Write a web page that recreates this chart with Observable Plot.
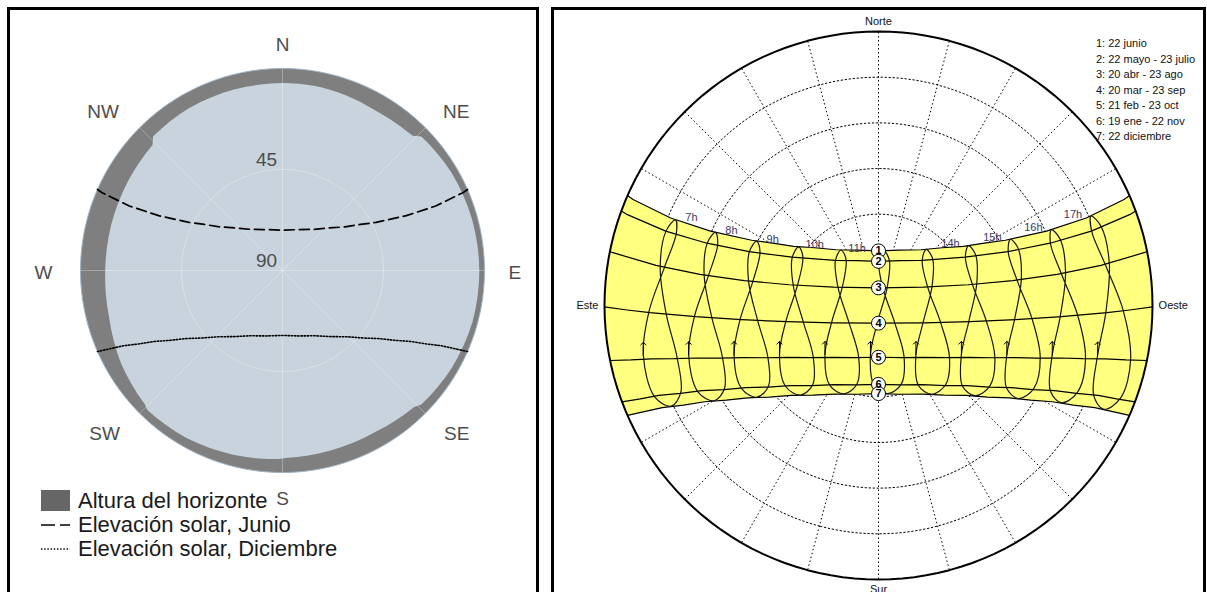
<!DOCTYPE html>
<html><head><meta charset="utf-8">
<script src="https://cdn.jsdelivr.net/npm/d3@7"></script>
<script src="https://cdn.jsdelivr.net/npm/@observablehq/plot@0.6"></script>
<style>
  html, body { margin:0; padding:0; background:#fff; }
  body { position:relative; width:1207px; height:592px; overflow:hidden; font-family:"Liberation Sans", Arial, sans-serif; }
  .box { position:absolute; border:3px solid #000; box-sizing:border-box; }
  .layer { position:absolute; top:0; }
  .layer svg { display:block; }
  #legL { position:absolute; left:40px; top:489px; font-size:22px; color:#1a1a1a; }
  #legL .row { position:relative; height:24px; line-height:24px; white-space:nowrap; }
  #legL .row svg { position:absolute; left:0; top:0; }
  #legL .row span { position:absolute; left:38px; top:0; }
  #legR { position:absolute; left:1096px; top:36px; font-size:11px; line-height:15.55px; color:#111; white-space:nowrap; }
</style></head>
<body>
<div class="box" style="left:7px;top:7px;width:532px;height:640px"></div>
<div class="box" style="left:551px;top:7px;width:655px;height:640px"></div>
<div class="layer" id="L1" style="left:0;width:540px"></div>
<div class="layer" id="L2" style="left:0;width:540px"></div>
<div id="legL"></div>
<div class="layer" id="R1" style="left:550px;width:657px"></div>
<div class="layer" id="R2" style="left:550px;width:657px"></div>
<div id="legR"></div>
<div class="layer" id="R3" style="left:550px;width:657px"></div>
<script>
// ---------------- DATA ----------------
const LAT = 5.5; // latitud aproximada leída del diagrama (°N)

// Perfil del horizonte (azimut °, altura °)
const horizonAz   = [0, 10, 20, 30, 40, 44, 46, 60, 75, 90, 105, 120, 134, 136, 150, 165, 179, 181, 195, 210, 224, 226, 240, 255, 270, 285, 300, 314, 316, 330, 345];
const horizonElev = [6.5, 6.5, 7, 7.5, 7, 6.5, 4, 3, 2.5, 2.3, 2.3, 3, 4, 5.5, 7, 7, 6.5, 6, 5, 4, 3.5, 4.5, 7, 10, 11, 11, 10.5, 9.5, 7, 6.5, 6.5];

const compassNames = ["N", "NE", "E", "SE", "S", "SW", "W", "NW"];
const compassAz = [0, 45, 90, 135, 180, 225, 270, 315];
const elevTicks = [45, 90];

const legendLeft = ["Altura del horizonte", "Elevación solar, Junio", "Elevación solar, Diciembre"];

// Diagrama solar (derecha)
const lineIds = ["1", "2", "3", "4", "5", "6", "7"];
const lineDecl = [23.44, 20.0, 11.3, -0.3, -11.5, -20.4, -23.44];
const legendRight = ["1: 22 junio", "2: 22 mayo - 23 julio", "3: 20 abr - 23 ago", "4: 20 mar - 23 sep", "5: 21 feb - 23 oct", "6: 19 ene - 22 nov", "7: 22 diciembre"];

// fechas del año en orden: declinación (°) y desplazamiento horario de los lazos (min), estimado del dibujo
const dateNames  = ["22 jun", "23 jul", "23 ago", "23 sep", "23 oct", "22 nov", "22 dic", "19 ene", "21 feb", "20 mar", "20 abr", "22 may"];
const dateDecl   = [23.44, 19.9, 11.0, -0.2, -11.3, -20.2, -23.44, -20.6, -10.6, -0.1, 11.5, 20.4];
const dateShift  = [-2.7, -9.6, -3.9, 11.3, 23.7, 21.0, 2.9, -16.0, -20.6, -11.4, 1.7, 5.0];
const clockOffset = 10; // min

const pathHours = [5, 6, 7, 8, 9, 10, 11, 12, 13, 14, 15, 16, 17, 18, 19];
const analemmaHours = [7, 8, 9, 10, 11, 12, 13, 14, 15, 16, 17];
const labeledHours = [7, 8, 9, 10, 11, 14, 15, 16, 17];

const gridZenith = [15, 30, 45, 60, 75];
const gridAz = [0, 15, 30, 45, 60, 75, 90, 105, 120, 135, 150, 165, 180, 195, 210, 225, 240, 255, 270, 285, 300, 315, 330, 345];
const cardinalNames = ["Norte", "Este", "Sur", "Oeste"];
const cardinalAz = [0, 90, 180, 270];

// ---------------- HELPERS ----------------
const wrap = (l) => ((l + 540) % 360) - 180;
const hourAngle = (h, shiftMin) => 15 * (h - 12) + shiftMin / 4;

function horizProj(inset) {
  return {
    type: () => d3.geoAzimuthalEquidistant().rotate([0, -90]).precision(0.1),
    domain: d3.geoCircle().center([0, 90]).radius(90)(),
    clip: false, ...inset
  };
}
function eqProj(inset) {
  return {
    type: () => d3.geoAzimuthalEquidistant().rotate([0, -LAT]).clipAngle(90).precision(0.1),
    domain: {type: "Sphere"},
    clip: false, ...inset
  };
}
function polygon(ring) {
  const r = ring.concat([ring[0]]);
  let p = {type: "Polygon", coordinates: [r]};
  if (d3.geoArea(p) > 2 * Math.PI) p = {type: "Polygon", coordinates: [r.slice().reverse()]};
  return p;
}
function anchorsFor(az) {
  const s = Math.sin(az * Math.PI / 180), c = Math.cos(az * Math.PI / 180);
  return {
    textAnchor: s > 0.3 ? "start" : s < -0.3 ? "end" : "middle",
    lineAnchor: c > 0.3 ? "bottom" : c < -0.3 ? "top" : "middle"
  };
}

// ---------------- LEFT PANEL ----------------
const LW = 540, LH = 592;
const Linset = {insetLeft: 80, insetTop: 68, insetRight: 56, insetBottom: 120};
const lonL = (a) => wrap(180 - a);
const labelNudge = {N: [0, 0], NE: [5, 3], E: [6, 2], SE: [6, 0], S: [0, 1], SW: [-7, 0], W: [-10, 2], NW: [-8, 3]};

const skyPoly = polygon(horizonAz.map((a, i) => [lonL(a), horizonElev[i]]));
const compass = compassNames.map((name, i) => ({name, az: compassAz[i]}));

const left1 = Plot.plot({
  width: LW, height: LH, margin: 0,
  style: {background: "none", overflow: "visible"},
  projection: horizProj(Linset),
  marks: [
    Plot.geo([d3.geoCircle().center([0, 90]).radius(90)()], {fill: "#7f7f7f"}),
    Plot.geo([skyPoly], {fill: "#c8d3dd"}),
    Plot.geo([d3.geoCircle().center([0, 90]).radius(45)()], {stroke: "#ffffff", strokeOpacity: 0.3, strokeWidth: 1}),
    Plot.link(compassAz, {x1: () => 0, y1: () => 90, x2: (a) => lonL(a), y2: () => 0, stroke: "#ffffff", strokeOpacity: 0.3, strokeWidth: 1}),
    Plot.geo([d3.geoCircle().center([0, 90]).radius(90)()], {stroke: "#9fb4c6", strokeWidth: 1}),
    ...compass.map((d) => Plot.text([d], {
      x: (d) => lonL(d.az), y: () => -8, text: "name",
      ...anchorsFor(d.az), dx: labelNudge[d.name][0], dy: labelNudge[d.name][1],
      fontSize: 19, fill: "#4d4d4d", fontFamily: "Liberation Sans"
    })),
    Plot.text(elevTicks, {x: () => 180, y: (e) => e, text: (e) => String(e), dx: -16, dy: -10, fontSize: 19, fill: "#4d4d4d", fontFamily: "Liberation Sans"})
  ]
});
document.getElementById("L1").append(left1);

const junPath = pathHours.map((h) => ({H: hourAngle(h, 0), dec: lineDecl[0]}));
const decPath = pathHours.map((h) => ({H: hourAngle(h, 0), dec: lineDecl[6]}));

const left2 = Plot.plot({
  width: LW, height: LH, margin: 0,
  style: {background: "none", overflow: "visible"},
  projection: eqProj(Linset),
  marks: [
    Plot.line(junPath, {x: (d) => -d.H, y: "dec", stroke: "#000", strokeWidth: 1.7, strokeDasharray: "10,5"}),
    Plot.line(decPath, {x: (d) => -d.H, y: "dec", stroke: "#000", strokeWidth: 1.6, strokeDasharray: "1.4,1.8"})
  ]
});
document.getElementById("L2").append(left2);

// legend left
const legL = document.getElementById("legL");
legendLeft.forEach((t, i) => {
  const row = document.createElement("div");
  row.className = "row";
  let sw;
  if (i === 0) sw = '<svg width="30" height="24"><rect x="1" y="1" width="29" height="21" fill="#666"/></svg>';
  else if (i === 1) sw = '<svg width="30" height="24"><line x1="1" x2="30" y1="12" y2="12" stroke="#000" stroke-width="1.6" stroke-dasharray="14,5"/></svg>';
  else sw = '<svg width="30" height="24"><line x1="1" x2="30" y1="12" y2="12" stroke="#000" stroke-width="1.4" stroke-dasharray="1.4,1.8"/></svg>';
  row.innerHTML = sw + "<span></span>";
  row.querySelector("span").textContent = t;
  legL.append(row);
});

// ---------------- RIGHT PANEL ----------------
const RW = 657, RH = 592;
const Rinset = {insetLeft: 54, insetTop: 31, insetRight: 55, insetBottom: 13};
const lonR = (a) => wrap(180 + a);

const right1 = Plot.plot({
  width: RW, height: RH, margin: 0,
  style: {background: "none", overflow: "visible"},
  projection: horizProj(Rinset),
  marks: [
    Plot.geo(gridZenith.map((z) => d3.geoCircle().center([0, 90]).radius(z)()), {stroke: "#000", strokeWidth: 1, strokeDasharray: "1.5,2.5"}),
    Plot.link(gridAz, {x1: () => 0, y1: () => 90, x2: (a) => lonR(a), y2: () => 0, stroke: "#000", strokeWidth: 1, strokeDasharray: "1.5,2.5"})
  ]
});
document.getElementById("R1").append(right1);

const bandTop = pathHours.map((h) => [hourAngle(h, 0), lineDecl[0]]);
const bandBot = pathHours.map((h) => [hourAngle(h, 0), lineDecl[6]]).reverse();
const bandPoly = polygon(bandTop.concat(bandBot));

const datePaths = lineIds.flatMap((id, i) => pathHours.map((h) => ({id, H: hourAngle(h, 0), dec: lineDecl[i]})));
const analemma = analemmaHours.flatMap((h) => dateNames.map((n, i) => ({h, H: hourAngle(h, dateShift[i] + clockOffset), dec: dateDecl[i]})));
const arrows = analemmaHours.map((h) => ({h, H: hourAngle(h, dateShift[8] + clockOffset), dec: dateDecl[8]}));
const circles = lineIds.map((id, i) => ({id, dec: lineDecl[i]}));
const hourLabels = labeledHours.map((h) => ({h, H: hourAngle(h, dateShift[0] + clockOffset), dec: dateDecl[0]}));

const right2 = Plot.plot({
  width: RW, height: RH, margin: 0,
  style: {background: "none", overflow: "visible"},
  projection: eqProj(Rinset),
  marks: [
    Plot.geo([bandPoly], {fill: "#ffff80"}),
    Plot.line(datePaths, {x: "H", y: "dec", z: "id", stroke: "#000", strokeWidth: 1.2}),
    Plot.line(analemma, {x: "H", y: "dec", z: "h", curve: "catmull-rom-closed", stroke: "#161616", strokeWidth: 1.2}),
    Plot.vector(arrows, {x: "H", y: "dec", length: 13, rotate: 0, anchor: "start", stroke: "#000", strokeWidth: 1}),
    Plot.dot(circles, {x: () => 0, y: "dec", r: 7, fill: "#fff", stroke: "#000", strokeWidth: 1}),
    Plot.text(circles, {x: () => 0, y: "dec", text: "id", fontSize: 11, fontWeight: "bold", fill: "#000", fontFamily: "Liberation Sans"}),
    Plot.text(hourLabels.filter((d) => d.h < 12), {x: "H", y: "dec", text: (d) => d.h + "h", dx: 16, dy: -2, fontSize: 11, fill: "#3d3a5c", fontFamily: "Liberation Sans"}),
    Plot.text(hourLabels.filter((d) => d.h > 12), {x: "H", y: "dec", text: (d) => d.h + "h", dx: -18, dy: -2, fontSize: 11, fill: "#3d3a5c", fontFamily: "Liberation Sans"})
  ]
});
document.getElementById("R2").append(right2);

// legend right
const legR = document.getElementById("legR");
legendRight.forEach((t) => { const d = document.createElement("div"); d.textContent = t; legR.append(d); });

const cardinals = cardinalNames.map((name, i) => ({name, az: cardinalAz[i]}));
const right3 = Plot.plot({
  width: RW, height: RH, margin: 0,
  style: {background: "none", overflow: "visible"},
  projection: horizProj(Rinset),
  marks: [
    Plot.geo([d3.geoCircle().center([0, 90]).radius(90).precision(5)()], {stroke: "#000", strokeWidth: 2}),
    ...cardinals.map((d) => {
      const a = anchorsFor(-d.az);
      return Plot.text([d], {x: (d) => lonR(d.az), y: () => -2, text: "name", ...a, fontSize: 11, fill: "#111", fontFamily: "Liberation Sans"});
    })
  ]
});
document.getElementById("R3").append(right3);
</script>
</body></html>
